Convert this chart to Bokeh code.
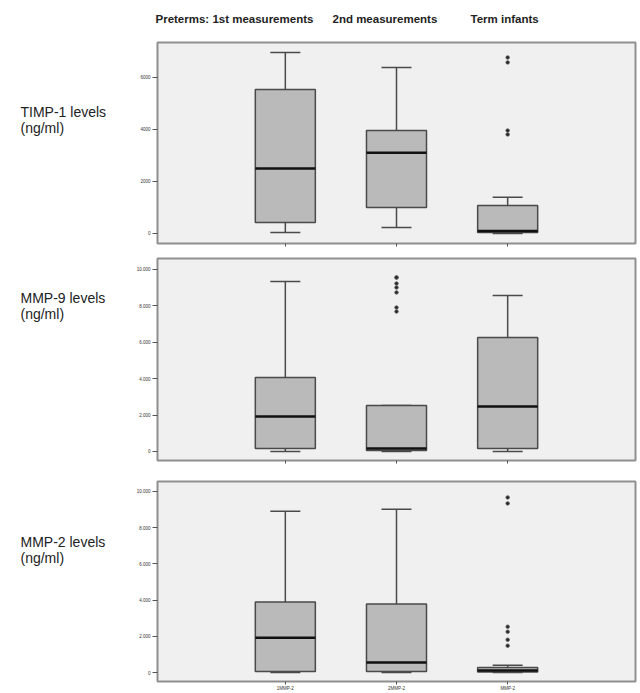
from bokeh.plotting import figure
from bokeh.layouts import column, row
from bokeh.models import Range1d, FixedTicker
from bokeh.core.properties import value
from bokeh.embed import file_html
from bokeh.resources import INLINE

# ---------------- data ----------------
column_titles = ["Preterms: 1st measurements", "2nd measurements", "Term infants"]
row_labels = ["TIMP-1 levels", "MMP-9 levels", "MMP-2 levels"]
unit_label = "(ng/ml)"

group_pos = [1, 2, 3]

timp_ticks = [0, 2000, 4000, 6000]
timp_tick_labels = ["0", "2000", "4000", "6000"]
mmp_ticks = [0, 2000, 4000, 6000, 8000, 10000]
mmp_tick_labels = ["0", "2.000", "4.000", "6.000", "8.000", "10.000"]

timp_x_labels = ["", "", ""]
mmp9_x_labels = ["", "", ""]
mmp2_x_labels = ["1MMP-2", "2MMP-2", "MMP-2"]

# TIMP-1
timp_min = [40, 230, 0]
timp_q1 = [420, 1000, 40]
timp_med = [2500, 3110, 100]
timp_q3 = [5540, 3960, 1080]
timp_max = [6960, 6380, 1390]
timp_out_group = [3, 3, 3, 3]
timp_out_val = [6770, 6580, 3960, 3810]

# MMP-9
mmp9_min = [0, 0, 0]
mmp9_q1 = [165, 55, 165]
mmp9_med = [1920, 165, 2470]
mmp9_q3 = [4070, 2530, 6260]
mmp9_max = [9340, 2530, 8570]
mmp9_out_group = [2, 2, 2, 2, 2, 2, 2]
mmp9_out_val = [9560, 9560, 9230, 9010, 8740, 7910, 7690]

# MMP-2
mmp2_min = [0, 0, 0]
mmp2_q1 = [55, 55, 30]
mmp2_med = [1920, 550, 110]
mmp2_q3 = [3900, 3790, 275]
mmp2_max = [8900, 9010, 400]
mmp2_out_group = [3, 3, 3, 3, 3, 3]
mmp2_out_val = [9670, 9340, 2530, 2250, 1810, 1480]

# ---------------- styling ----------------
FONT = value("Liberation Sans")
FRAME_BG = "#f0f0f0"
BOX_FILL = "#bababa"
BOX_LINE = "#4a4a4a"
FRAME_LINE = "#8f8f8f"
BOX_W = 0.54
CAP_W = 0.27

TOTAL_W = 640
LABEL_W = 129
PANEL_W = TOTAL_W - LABEL_W


def make_panel(mins, q1, med, q3, maxs, out_g, out_v, ticks, tick_labels,
               x_labels, y_lo, y_hi, height, top, bottom):
    p = figure(width=PANEL_W, height=height, output_backend="svg",
               toolbar_location=None, x_range=Range1d(-0.15, 4.15),
               y_range=Range1d(y_lo, y_hi), min_border_left=28,
               min_border_right=PANEL_W - 28 - 478, min_border_top=top,
               min_border_bottom=bottom)
    p.background_fill_color = FRAME_BG
    p.border_fill_color = "white"
    p.outline_line_color = FRAME_LINE
    p.outline_line_width = 2
    p.grid.visible = False

    # whiskers
    p.segment(x0=group_pos, y0=q3, x1=group_pos, y1=maxs, line_color=BOX_LINE, line_width=1.5)
    p.segment(x0=group_pos, y0=mins, x1=group_pos, y1=q1, line_color=BOX_LINE, line_width=1.5)
    # caps
    p.segment(x0=[g - CAP_W / 2 for g in group_pos], y0=maxs,
              x1=[g + CAP_W / 2 for g in group_pos], y1=maxs, line_color=BOX_LINE, line_width=1.5)
    p.segment(x0=[g - CAP_W / 2 for g in group_pos], y0=mins,
              x1=[g + CAP_W / 2 for g in group_pos], y1=mins, line_color=BOX_LINE, line_width=1.5)
    # boxes
    p.vbar(x=group_pos, width=BOX_W, bottom=q1, top=q3, fill_color=BOX_FILL,
           line_color=BOX_LINE, line_width=1.5)
    # medians
    p.segment(x0=[g - BOX_W / 2 for g in group_pos], y0=med,
              x1=[g + BOX_W / 2 for g in group_pos], y1=med, line_color="#111111", line_width=2.5)
    # outliers
    p.scatter(x=out_g, y=out_v, size=3.5, fill_color="#2a2a2a", line_color="#555555",
              line_width=0.8)

    p.yaxis.ticker = FixedTicker(ticks=ticks)
    p.yaxis.major_label_overrides = dict(zip(ticks, tick_labels))
    p.yaxis.major_label_text_font_size = "4.5px"
    p.yaxis.major_label_text_color = "#333333"
    p.yaxis.major_label_standoff = 2
    p.yaxis.major_tick_out = 5
    p.yaxis.major_tick_in = 0
    p.yaxis.major_tick_line_color = "#555555"
    p.yaxis.minor_tick_line_color = None
    p.yaxis.axis_line_color = FRAME_LINE

    p.xaxis.ticker = FixedTicker(ticks=group_pos)
    p.xaxis.major_label_overrides = dict(zip(group_pos, x_labels))
    p.xaxis.major_label_text_font_size = "4.5px"
    p.xaxis.major_label_text_color = "#333333"
    p.xaxis.major_label_standoff = 1
    p.xaxis.major_tick_out = 3
    p.xaxis.major_tick_in = 0
    p.xaxis.major_tick_line_color = "#555555"
    p.xaxis.minor_tick_line_color = None
    p.xaxis.axis_line_color = FRAME_LINE
    return p


p1 = make_panel(timp_min, timp_q1, timp_med, timp_q3, timp_max, timp_out_group, timp_out_val,
                timp_ticks, timp_tick_labels, timp_x_labels, -385, 7346, 216, 8, 7)
p2 = make_panel(mmp9_min, mmp9_q1, mmp9_med, mmp9_q3, mmp9_max, mmp9_out_group, mmp9_out_val,
                mmp_ticks, mmp_tick_labels, mmp9_x_labels, -495, 10604, 220, 8, 10)
p3 = make_panel(mmp2_min, mmp2_q1, mmp2_med, mmp2_q3, mmp2_max, mmp2_out_group, mmp2_out_val,
                mmp_ticks, mmp_tick_labels, mmp2_x_labels, -495, 10549, 223, 11, 11)

# header with column titles
HEADER_H = 34
header = figure(width=TOTAL_W, height=HEADER_H, output_backend="svg", toolbar_location=None,
                x_range=Range1d(0, TOTAL_W), y_range=Range1d(HEADER_H, 0), min_border=0)
header.axis.visible = False
header.grid.visible = False
header.outline_line_color = None
header.text(x=[155, 332, 470], y=[18, 18, 18], text=column_titles, text_font=FONT,
            text_font_size=value("11.5px"), text_font_style="bold", text_color="#222222",
            text_baseline="middle", text_align="left")

# left labels
LAB_H = 216 + 220 + 223
labels = figure(width=LABEL_W, height=LAB_H, output_backend="svg", toolbar_location=None,
                x_range=Range1d(0, LABEL_W), y_range=Range1d(LAB_H, 0), min_border=0)
labels.axis.visible = False
labels.grid.visible = False
labels.outline_line_color = None
lab_y = [77, 263, 507]
labels.text(x=[20] * 3, y=lab_y, text=row_labels, text_font=FONT,
            text_font_size=value("14px"), text_color="#222222",
            text_baseline="middle", text_align="left")
labels.text(x=[20] * 3, y=[v + 16 for v in lab_y], text=[unit_label] * 3, text_font=FONT,
            text_font_size=value("14px"), text_color="#222222",
            text_baseline="middle", text_align="left")

layout = column(header, row(labels, column(p1, p2, p3)))

open("out.html", "w").write(file_html(layout, INLINE))
